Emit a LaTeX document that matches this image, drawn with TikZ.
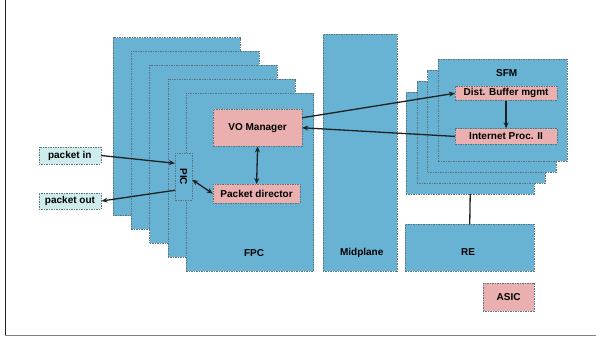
\documentclass[tikz,border=0pt]{standalone}
\usepackage{fontspec}
\setsansfont{Liberation Sans}
\usepackage{tikz}
\usetikzlibrary{arrows.meta}

\definecolor{boardblue}{RGB}{104,178,212}
\definecolor{asicpink}{RGB}{234,176,176}
\definecolor{portcyan}{RGB}{206,236,236}
\definecolor{edgegray}{RGB}{96,116,126}
\definecolor{linkdark}{RGB}{30,34,36}

\tikzset{
    box/.style={draw=edgegray, line width=0.5pt, dash pattern=on 1.5pt off 1pt,
        inner sep=0pt, anchor=north west},
    board/.style={box, fill=boardblue},
    asic/.style={box, fill=asicpink, font=\sffamily\bfseries\fontsize{10}{12}\selectfont},
    port/.style={box, fill=portcyan, font=\sffamily\bfseries\fontsize{10}{12}\selectfont},
    lbl/.style={font=\sffamily\bfseries\fontsize{10}{12}\selectfont, inner sep=1pt},
    link/.style={draw=linkdark, line width=1.3pt, -{Stealth[length=6pt,width=5pt]}},
    twolink/.style={link, {Stealth[length=6pt,width=5pt]}-{Stealth[length=6pt,width=5pt]}}
}

\begin{document}
\begin{tikzpicture}[x=1pt, y=-1pt]
    \useasboundingbox (0,0) rectangle (596,338);

    % frame of the figure
    \draw[linkdark, line width=1.4pt] (5.3,0) -- (5.3,335.5);
    \draw[gray, line width=0.8pt] (5.3,335.5) -- (596,335.5);

    % stack of FPC boards, back to front
    \foreach \i in {0,...,4}
        \node[board, minimum width=127.5pt, minimum height=178pt]
            (fpc\i) at (112.7+18.3*\i, 37.3+13.8*\i) {};
    \node[lbl] (fpclabel) at (254,253) {FPC};

    \node[board, minimum width=74pt, minimum height=236.7pt] (mid) at (322.7,34) {};
    \node[lbl] (midlabel) at (361.7,253) {Midplane};

    % stack of SFM boards, back to front
    \foreach \i in {0,...,3}
        \node[board, minimum width=128.5pt, minimum height=102pt]
            (sfm\i) at (405.7+10.8*\i, 91.7-10.9*\i) {};
    \node[lbl] (sfmlabel) at (506.7,73.3) {SFM};

    \node[board, minimum width=129pt, minimum height=46.7pt] (re) at (405,224) {};
    \node[lbl] (relabel) at (468,252) {RE};

    % ASICs
    \node[asic, minimum width=88.7pt, minimum height=37pt] (vo) at (213,109) {VO Manager};
    \node[asic, minimum width=87.3pt, minimum height=18.7pt] (pd) at (212.7,184) {Packet director};
    \node[board, minimum width=16.7pt, minimum height=47pt] (pic) at (175,153) {};
    \node[lbl, rotate=-90] (piclabel) at (pic.center) {PIC};
    \node[asic, minimum width=101.7pt, minimum height=14pt] (dbm) at (455,86) {Dist. Buffer mgmt};
    \node[asic, minimum width=101.7pt, minimum height=15.7pt] (ipp) at (455,128.3) {Internet Proc. II};
    \node[asic, minimum width=51.3pt, minimum height=28pt] (legend) at (482.7,282.7) {ASIC};

    \node[port, minimum width=62pt, minimum height=16.5pt] (pin) at (38.5,147) {packet in};
    \node[port, minimum width=62.5pt, minimum height=16.5pt] (pout) at (38.5,192.5) {packet out};

    % connections
    \draw[link] (pin.east) -- ([yshift=13.5pt]pic.west);
    \draw[link] ([yshift=-13.5pt]pic.west) -- (pout.east);
    \draw[twolink] ([yshift=-3pt]pic.east) -- (pd.west);
    \draw[twolink] (vo.south) -- (pd.north);
    \draw[link] ([yshift=10pt]vo.east) -- (dbm.west);
    \draw[link] (ipp.west) -- (vo.east);
    \draw[link] (dbm.south) -- (ipp.north);
    \draw[draw=linkdark, line width=1.3pt] (sfm0.south) -- (re.north);
\end{tikzpicture}
\end{document}
